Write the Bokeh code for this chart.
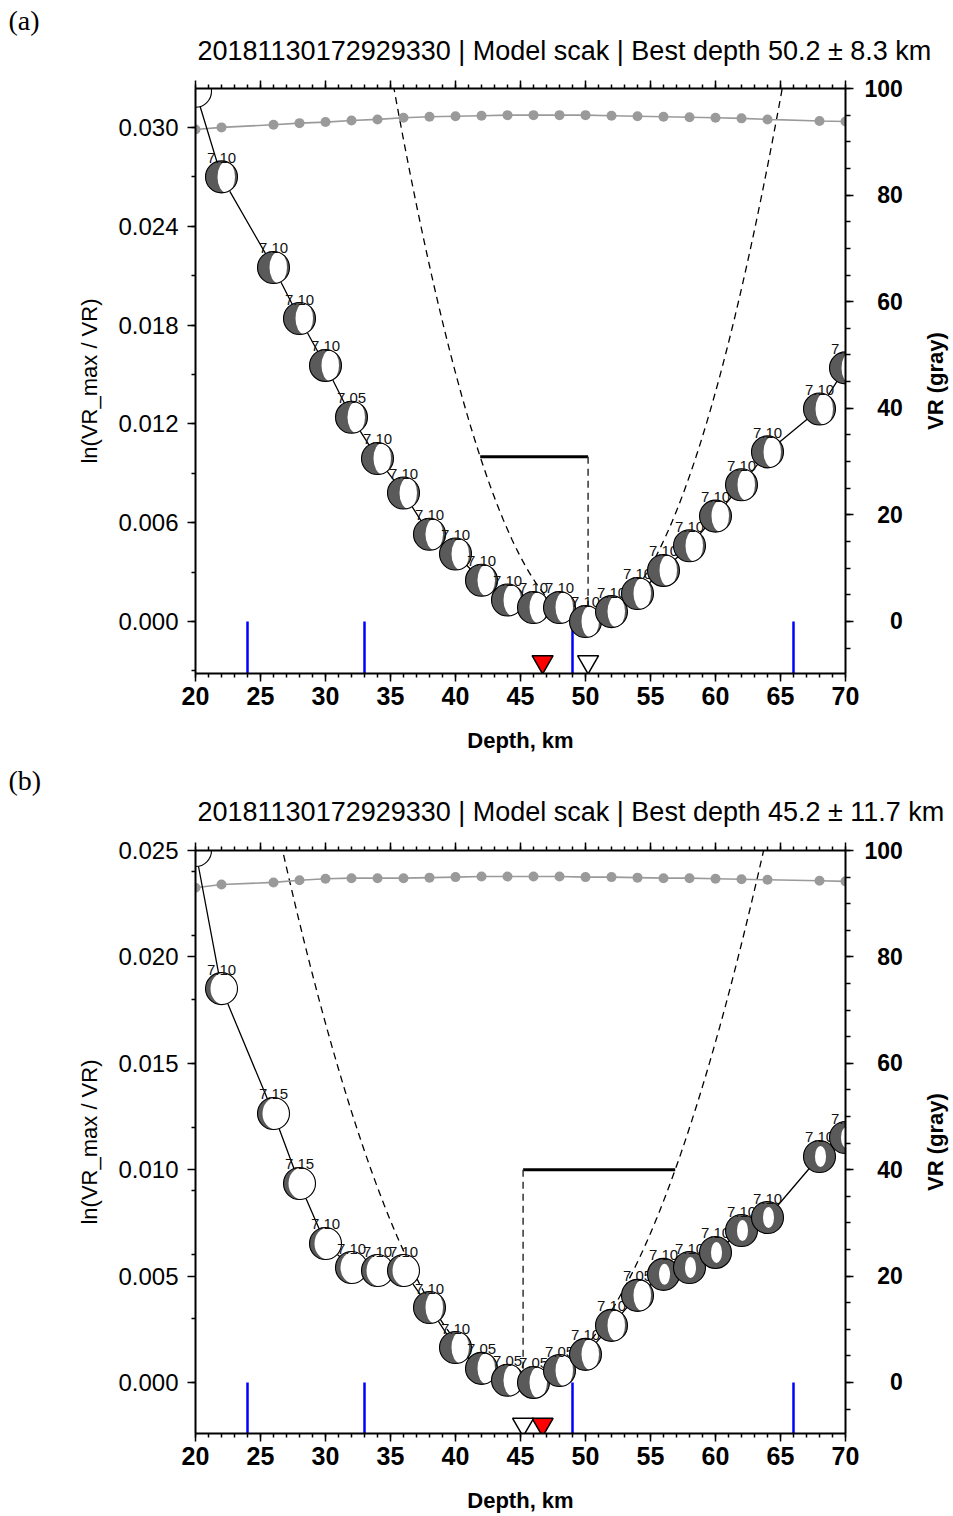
import math
import numpy as np
from bokeh.plotting import figure
from bokeh.models import (Range1d, LinearAxis, FixedTicker, PrintfTickFormatter,
                          CustomLabelingPolicy)
from bokeh.layouts import column, row
from bokeh.embed import file_html
from bokeh.resources import INLINE
from bokeh.core.properties import value

# ---------------- data ----------------
depths = [20, 22, 26, 28, 30, 32, 34, 36, 38, 40, 42, 44, 46, 48, 50, 52, 54, 56, 58, 60, 62, 64, 68, 70]

event_id = "20181130172929330"
model_name = "scak"
catalog_depth = 46.7
interfaces = [24, 33, 49, 66]
bar_level = 0.01

# panel (a)
best_a, sigma_a = 50.2, 8.3
misfit_a = [0.0322, 0.0270, 0.0215, 0.0184, 0.01555, 0.0124, 0.0099, 0.0078, 0.0053, 0.0041,
            0.0025, 0.0013, 0.00085, 0.00085, 0.0, 0.0006, 0.0017, 0.0031, 0.0046, 0.0064,
            0.0083, 0.0103, 0.0129, 0.0154]
vr_a = [92.3, 92.7, 93.2, 93.5, 93.7, 94.0, 94.2, 94.5, 94.7, 94.8, 94.9, 95.0, 95.0, 95.0,
        95.0, 94.9, 94.8, 94.7, 94.6, 94.5, 94.4, 94.2, 93.9, 93.8]
mag_a = ["7.10", "7.10", "7.10", "7.10", "7.10", "7.05", "7.10", "7.10", "7.10", "7.10", "7.10", "7.10",
         "7.10", "7.10", "7.10", "7.10", "7.10", "7.10", "7.10", "7.10", "7.10", "7.10", "7.10", "7.10"]
mech_a = ["W"] + ["A"] * 23

# panel (b)
best_b, sigma_b = 45.2, 11.7
misfit_b = [0.0250, 0.01851, 0.01264, 0.00935, 0.00653, 0.0054, 0.00526, 0.00526, 0.00352, 0.00164,
            0.00066, 0.0001, 0.0, 0.00056, 0.00132, 0.00268, 0.00409, 0.00508, 0.0054, 0.00611,
            0.00714, 0.00775, 0.01062, 0.01151]
vr_b = [93.0, 93.6, 94.0, 94.4, 94.7, 94.8, 94.8, 94.8, 94.9, 95.0, 95.1, 95.1, 95.1, 95.1,
        95.0, 95.0, 94.9, 94.8, 94.8, 94.7, 94.6, 94.5, 94.3, 94.2]
mag_b = ["7.10", "7.10", "7.15", "7.15", "7.10", "7.10", "7.10", "7.10", "7.10", "7.10", "7.05", "7.05",
         "7.05", "7.05", "7.10", "7.10", "7.05", "7.10", "7.10", "7.10", "7.10", "7.10", "7.10", "7.10"]
mech_b = ["W"] * 8 + ["A"] * 9 + ["O"] * 7

x_major = [20, 25, 30, 35, 40, 45, 50, 55, 60, 65, 70]
vr_major = [0, 20, 40, 60, 80, 100]

# ---------------- style / layout ----------------
SANS = "Liberation Sans"
SERIF = "Liberation Serif"
X0, X1 = 20, 70
PAGE_W = 953
SIDE_W = 43
FIG_W = PAGE_W - SIDE_W
FRAME_W = 650
BORDER_L = 195
BORDER_R = FIG_W - FRAME_W - BORDER_L
BORDER_T = 22
PX_PER_KM = FRAME_W / (X1 - X0)
DARK = "#5a5a5a"
BALL_D = 32
LABEL_DY = 19
# dx (px), ellipse width, height (px) of the white part
MECH_STYLE = {"W": (2.5, 27, 32), "A": (4.75, 17.5, 31), "O": (1, 11, 21)}


def bare(width, height, top=0, bottom=0):
    f = figure(width=width, height=height, x_range=Range1d(0, width),
               y_range=Range1d(0, height - top - bottom),
               output_backend="svg", toolbar_location=None, title=None,
               x_axis_location=None, y_axis_location=None,
               min_border_left=0, min_border_right=0, min_border_top=top, min_border_bottom=bottom,
               background_fill_color="white", border_fill_color="white")
    f.outline_line_color = None
    f.grid.grid_line_color = None
    return f


def header(letter, title, height, letter_y, title_y):
    h = bare(PAGE_W, height)
    h.text([8], [height - letter_y], text=[letter], text_font=value(SERIF),
           text_font_size=value("28px"), text_align="left", text_baseline="middle",
           text_color="black")
    h.text([BORDER_L + 2], [height - title_y], text=[title], text_font=value(SANS),
           text_font_size=value("27px"), text_align="left", text_baseline="middle",
           text_color="black")
    return h


def side(height, frame_h, border_bottom):
    s = bare(SIDE_W, height, BORDER_T, border_bottom)
    s.text([25], [frame_h / 2], text=["VR (gray)"], angle=math.pi / 2,
           text_font=value(SANS), text_font_size=value("22px"), text_font_style="bold",
           text_align="center", text_baseline="middle", text_color="black")
    return s


def style_axis(ax, bold=False, size="24px"):
    ax.axis_line_width = 2
    ax.axis_line_color = "black"
    ax.major_tick_line_width = 1.5
    ax.minor_tick_line_width = 1.5
    ax.major_tick_line_color = "black"
    ax.minor_tick_line_color = "black"
    ax.major_tick_in = 0
    ax.major_tick_out = 8
    ax.minor_tick_in = 0
    ax.minor_tick_out = 4
    ax.major_label_text_font = SANS
    ax.major_label_text_font_size = size
    ax.major_label_text_font_style = "bold" if bold else "normal"
    ax.major_label_text_color = "black"
    ax.axis_label_text_font = SANS
    ax.axis_label_text_font_size = "22px"
    ax.axis_label_text_font_style = "normal"
    ax.axis_label_text_color = "black"


def panel(best, sigma, bar_side, misfit, vr, mags, mechs, y_lo, y_hi, vr_lo,
          y_step, frame_h, border_bottom, tri_y):
    height = BORDER_T + frame_h + border_bottom
    p = figure(width=FIG_W, height=height, x_range=Range1d(X0, X1), y_range=Range1d(y_lo, y_hi),
               output_backend="svg", toolbar_location=None, title=None,
               x_axis_location=None, y_axis_location=None,
               min_border_left=BORDER_L, min_border_right=BORDER_R,
               min_border_top=BORDER_T, min_border_bottom=border_bottom,
               background_fill_color="white", border_fill_color="white")
    p.outline_line_color = None
    p.grid.grid_line_color = None
    p.extra_y_ranges = {"vr": Range1d(vr_lo, 100)}

    xt = FixedTicker(ticks=x_major, minor_ticks=list(range(X0, X1 + 1)))
    bottom = LinearAxis(ticker=xt, axis_label="Depth, km")
    style_axis(bottom, bold=True, size="25px")
    bottom.axis_label_text_font_style = "bold"
    bottom.major_label_standoff = 5
    bottom.axis_label_standoff = 20
    p.add_layout(bottom, "below")

    top = LinearAxis(ticker=xt)
    style_axis(top, size="1px")
    top.major_label_standoff = 0
    top.major_label_policy = CustomLabelingPolicy(
        code="for (const i of indices) { indices.unset(i) } return indices")
    p.add_layout(top, "above")

    n_major = int(round(y_hi / y_step))
    y_major = [round(k * y_step, 4) for k in range(0, n_major + 1)]
    y_minor = [round(k * 0.003, 4) for k in range(-1, int(y_hi / 0.003) + 1)]
    left = LinearAxis(ticker=FixedTicker(ticks=y_major, minor_ticks=y_minor),
                      formatter=PrintfTickFormatter(format="%.3f"), axis_label="ln(VR_max / VR)")
    style_axis(left)
    left.major_label_standoff = 9
    left.axis_label_standoff = 13
    p.add_layout(left, "left")

    right = LinearAxis(y_range_name="vr",
                       ticker=FixedTicker(ticks=vr_major, minor_ticks=list(range(-5, 101, 5))))
    style_axis(right, bold=True, size="23px")
    right.minor_tick_out = 5
    right.major_label_standoff = 11
    right.major_label_overrides = {v: ("\u2007" * (3 - len(str(v)))) + str(v) for v in vr_major}
    p.add_layout(right, "right")

    # misfit parabola
    xs = np.linspace(X0, X1, 301)
    ys = bar_level * ((xs - best) / sigma) ** 2
    p.line(xs, ys, line_color="black", line_width=1.3, line_dash="7 5")
    # uncertainty bar
    p.line([best, best + bar_side * sigma], [bar_level, bar_level], line_color="black", line_width=3)
    p.line([best, best], [bar_level, 0], line_color="#333333", line_width=1.5, line_dash="7 5")
    # model interfaces
    p.segment(x0=interfaces, y0=[0] * len(interfaces), x1=interfaces, y1=[y_lo] * len(interfaces),
              line_color="#0000ff", line_width=2.5)
    # VR curve
    p.line(depths, vr, y_range_name="vr", line_color="#9a9a9a", line_width=1.6)
    p.scatter(depths, vr, y_range_name="vr", marker="circle", size=10,
              fill_color="#9a9a9a", line_color=None)
    # misfit curve
    p.line(depths, misfit, line_color="black", line_width=1.3)

    # beach balls, drawn in order
    px_per_unit = frame_h / (y_hi - y_lo)
    for d, m, mg, mech in zip(depths, misfit, mags, mechs):
        dx, ew, eh = MECH_STYLE[mech]
        p.scatter([d], [m], marker="circle", size=BALL_D, fill_color=DARK, line_color=None)
        p.ellipse([d + dx / PX_PER_KM], [m], width=ew, height=eh, width_units="screen",
                  height_units="screen", fill_color="white", line_color=None)
        p.scatter([d], [m], marker="circle", size=BALL_D, fill_color=None, line_color="black",
                  line_width=1.1)
        # the magnitude label of a ball sitting on the top edge falls outside the frame
        if (y_hi - m) * px_per_unit > LABEL_DY + 12:
            p.text([d], [m], text=[mg], text_font=value(SANS), text_font_size=value("15px"),
                   text_align="center", text_baseline="alphabetic", y_offset=-LABEL_DY,
                   text_color="#111111")

    # depth markers
    p.scatter([catalog_depth], [tri_y], marker="inverted_triangle", size=21,
              fill_color="#ff0000", line_color="black", line_width=1.5)
    p.scatter([best], [tri_y], marker="inverted_triangle", size=21,
              fill_color="white", line_color="black", line_width=1.5)
    return p, height


def title_of(best, sigma):
    return f"{event_id} | Model {model_name} | Best depth {best:.1f} \u00b1 {sigma:.1f} km"


FRAME_H_A, FRAME_H_B = 585, 584
BOTTOM_A, BOTTOM_B = 90, 81

pa, ha = panel(best_a, sigma_a, -1, misfit_a, vr_a, mag_a, mech_a,
               -0.00316, 0.03237, -9.76, 0.006, FRAME_H_A, BOTTOM_A, -0.00245)
pb, hb = panel(best_b, sigma_b, +1, misfit_b, vr_b, mag_b, mech_b,
               -0.0024, 0.025, -9.6, 0.005, FRAME_H_B, BOTTOM_B, -0.00197)

head_a = header("(a)", title_of(best_a, sigma_a), 66, 20, 50)
head_b = header("(b)", title_of(best_b, sigma_b), 65, 17, 48)

layout = column(head_a, row(pa, side(ha, FRAME_H_A, BOTTOM_A), spacing=0),
                head_b, row(pb, side(hb, FRAME_H_B, BOTTOM_B), spacing=0), spacing=0)
open("out.html", "w").write(file_html(layout, INLINE))
